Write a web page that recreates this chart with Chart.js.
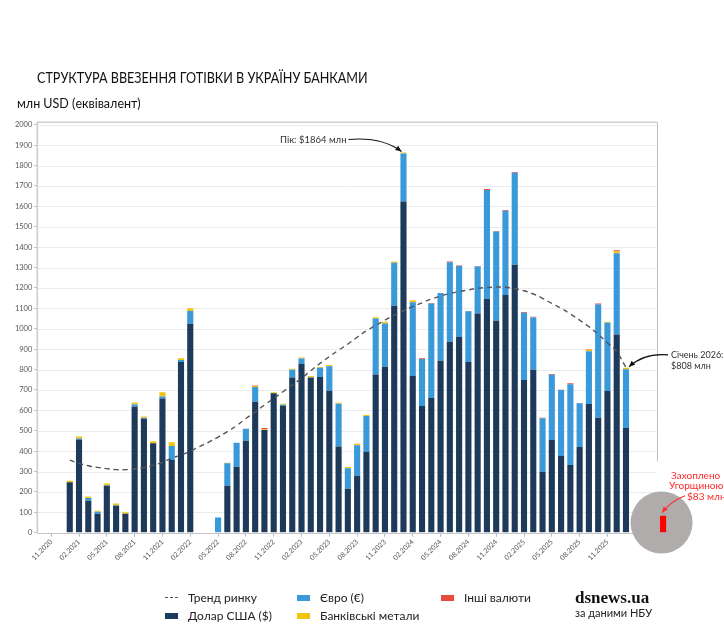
<!DOCTYPE html>
<html><head><meta charset="utf-8">
<script src="https://cdn.jsdelivr.net/npm/chart.js@4.4.1/dist/chart.umd.min.js"></script>
<style>
html,body{margin:0;padding:0;background:#fff;}
#wrap{position:relative;width:724px;height:630px;overflow:hidden;font-family:Lato,"Noto Sans",sans-serif;color:#111;}
canvas{position:absolute;left:0;top:0;}
.t{position:absolute;white-space:nowrap;line-height:1;}
.lg{position:absolute;white-space:nowrap;font-size:12px;line-height:1;color:#222;}
.sw{position:absolute;}
</style></head><body>
<div id="wrap">
<canvas id="c" width="724" height="630"></canvas>
<div class="t" style="left:37px;top:70px;font-size:15px;transform:scaleX(0.84);transform-origin:0 0;">СТРУКТУРА ВВЕЗЕННЯ ГОТІВКИ В УКРАЇНУ БАНКАМИ</div>
<div class="t" style="left:17px;top:98px;font-size:12.5px;">млн USD (еквівалент)</div>
<div id="legend"></div>
<div class="t" style="left:575px;top:588px;font:bold 17px 'Liberation Serif','DejaVu Serif',serif;color:#111;">dsnews.ua</div>
<div class="t" style="left:575px;top:607px;font-size:11px;color:#222;">за даними НБУ</div>
</div>
<script>
// ---- data ----
const months = ['11.2020','12.2020',
 '01.2021','02.2021','03.2021','04.2021','05.2021','06.2021','07.2021','08.2021','09.2021','10.2021','11.2021','12.2021',
 '01.2022','02.2022','03.2022','04.2022','05.2022','06.2022','07.2022','08.2022','09.2022','10.2022','11.2022','12.2022',
 '01.2023','02.2023','03.2023','04.2023','05.2023','06.2023','07.2023','08.2023','09.2023','10.2023','11.2023','12.2023',
 '01.2024','02.2024','03.2024','04.2024','05.2024','06.2024','07.2024','08.2024','09.2024','10.2024','11.2024','12.2024',
 '01.2025','02.2025','03.2025','04.2025','05.2025','06.2025','07.2025','08.2025','09.2025','10.2025','11.2025','12.2025',
 '01.2026'];
const tickLabels = ['11.2020','02.2021','05.2021','08.2021','11.2021','02.2022','05.2022','08.2022','11.2022',
 '02.2023','05.2023','08.2023','11.2023','02.2024','05.2024','08.2024','11.2024','02.2025','05.2025','08.2025','11.2025'];
const usd = [0,0,247,457,157,93,230,132,93,618,559,438,658,356,837,1024,0,0,0,230,323,451,642,503,683,621,761,827,760,763,696,
 422,216,279,397,776,814,1113,1623,768,621,660,843,936,959,837,1074,1147,1039,1165,1314,748,799,299,454,376,332,420,631,564,694,972,513];
const eur = [0,0,0,5,13,10,3,3,0,10,5,0,10,69,10,63,0,0,74,110,118,59,72,0,0,6,38,27,2,45,120,
 210,100,150,175,274,212,210,236,362,231,463,332,390,348,248,231,533,438,413,451,330,256,262,320,323,396,214,258,555,335,398,288];
const metals = [0,0,8,10,8,5,8,8,7,10,6,10,20,18,8,13,0,0,0,3,0,0,5,4,5,5,5,5,6,4,6,
 5,6,7,5,6,8,7,5,9,0,0,0,0,0,0,0,0,0,0,0,0,0,0,0,0,0,0,8,0,5,10,7];
const others = [0,0,0,0,0,0,0,0,0,0,0,0,0,0,0,0,0,0,0,0,0,0,3,6,0,0,0,0,0,0,0,
 0,0,0,0,0,0,0,0,0,3,3,0,4,3,2,2,5,2,4,3,4,4,3,4,2,4,2,2,5,0,5,0];
const trend = [null,null,356,340,328,320,314,309,309,312,319,330,345,365,381,400,422,444,469,495,525,560,
 591,626,658,691,724,757,794,830,863,895,925,958,990,1016,1042,1067,1088,1108,1127,1145,
 1160,1172,1182,1190,1198,1202,1204,1203,1196,1186,1170,1149,1124,1100,1072,1042,1010,972,931,887,810];
const seizedValue = 83;
const seriesNames = ['Тренд ринку','Долар США ($)','Євро (€)','Банківські метали','Інші валюти'];
const colors = {trend:'#555555', usd:'#1e3a5a', eur:'#3a99d8', metals:'#f1c40f', others:'#e74c3c', seized:'#ff0000'};

// ---- build ----
const PAD_BEFORE = 1;
const labels = [''].concat(months, ['','',''], ['seized']);
const seizedIdx = labels.length - 1;
const pad = a => [null].concat(a.map(v => v === 0 ? null : v), [null,null,null,null]);
const padLine = a => [null].concat(a, [null,null,null,null]);
const seizedData = labels.map((l,i) => i === seizedIdx ? seizedValue : null);
const totals = months.map((m,i) => usd[i]+eur[i]+metals[i]+others[i]);

const barBase = {type:'bar', order:1, barPercentage:0.66, categoryPercentage:1, borderWidth:0};
const datasets = [
 {type:'line', label:seriesNames[0], data:padLine(trend), borderColor:colors.trend, borderWidth:1.4, borderDash:[5,4],
  pointRadius:0, tension:0.4, fill:false, order:0, stack:'trend'},
 Object.assign({label:seriesNames[1], data:pad(usd), backgroundColor:colors.usd}, barBase),
 Object.assign({label:seriesNames[2], data:pad(eur), backgroundColor:colors.eur}, barBase),
 Object.assign({label:seriesNames[3], data:pad(metals), backgroundColor:colors.metals}, barBase),
 Object.assign({label:seriesNames[4], data:pad(others), backgroundColor:colors.others}, barBase),
 Object.assign({label:'Захоплено', data:seizedData, backgroundColor:colors.seized}, barBase)
];

function arrow(ctx, x0,y0,cx,cy,x1,y1,color){
  ctx.strokeStyle=color; ctx.fillStyle=color; ctx.lineWidth=1.1;
  ctx.beginPath(); ctx.moveTo(x0,y0); ctx.quadraticCurveTo(cx,cy,x1,y1); ctx.stroke();
  const ang=Math.atan2(y1-cy,x1-cx), L=6, W=2.6;
  ctx.beginPath();
  ctx.moveTo(x1,y1);
  ctx.lineTo(x1-L*Math.cos(ang)+W*Math.sin(ang), y1-L*Math.sin(ang)-W*Math.cos(ang));
  ctx.lineTo(x1-L*Math.cos(ang)-W*Math.sin(ang), y1-L*Math.sin(ang)+W*Math.cos(ang));
  ctx.closePath(); ctx.fill();
}

const deco = {
 id:'deco',
 beforeDatasetsDraw(chart){
   const {ctx, chartArea:a, scales:{x,y}} = chart;
   const w = x.getPixelForValue(1)-x.getPixelForValue(0);
   const bx = x.getPixelForValue(66) + 0.35*w;
   ctx.save();
   ctx.lineWidth=1;
   y.ticks.forEach(t=>{
     if(t.value===0) return;
     const py=Math.round(y.getPixelForValue(t.value))+0.5;
     ctx.strokeStyle='#ebebeb';
     ctx.beginPath(); ctx.moveTo(a.left,py); ctx.lineTo(bx,py); ctx.stroke();
   });
   const p0=Math.round(y.getPixelForValue(0))+0.5;
   ctx.strokeStyle='#c4c4c4';
   ctx.beginPath(); ctx.moveTo(a.left,p0); ctx.lineTo(bx,p0); ctx.stroke();
   // frame
   ctx.strokeStyle='#cdcdcd'; ctx.lineWidth=1.6;
   const top=a.top-2.5;
   ctx.beginPath(); ctx.moveTo(a.left,a.bottom); ctx.lineTo(a.left,top); ctx.lineTo(bx,top); ctx.stroke();
   ctx.lineWidth=1; ctx.strokeStyle='#bdbdbd';
   ctx.beginPath(); ctx.moveTo(Math.round(bx)+0.5,top); ctx.lineTo(Math.round(bx)+0.5,a.bottom-71); ctx.stroke();
   // circle behind seized bar
   const sx=x.getPixelForValue(seizedIdx);
   ctx.fillStyle='#b1acac';
   ctx.beginPath(); ctx.arc(sx-1.5, y.getPixelForValue(50), 31, 0, Math.PI*2); ctx.fill();
   ctx.restore();
 },
 afterDatasetsDraw(chart){
   const {ctx, scales:{x,y}} = chart;
   ctx.save();
   ctx.font='9.5px Lato, "Noto Sans", sans-serif';
   ctx.textBaseline='middle';
   // peak
   let pi=0; totals.forEach((t,i)=>{ if(t>totals[pi]) pi=i; });
   const px=x.getPixelForValue(pi+PAD_BEFORE), py=y.getPixelForValue(totals[pi]);
   ctx.fillStyle='#333'; ctx.textAlign='right';
   ctx.fillText('Пік: $'+totals[pi]+' млн', px-57, py-13);
   arrow(ctx, px-55, py-13, px-22, py-16, px-2, py-1, '#111');
   // last month
   const li=months.length-1;
   const lx=x.getPixelForValue(li+PAD_BEFORE), ly=y.getPixelForValue(totals[li]);
   ctx.font='9px Lato, "Noto Sans", sans-serif';
   ctx.fillStyle='#333'; ctx.textAlign='left';
   ctx.fillText('Січень 2026:', lx+45, ly-13);
   ctx.fillText('$'+totals[li]+' млн', lx+45, ly-2);
   arrow(ctx, lx+42, ly-13, lx+18, ly-15, lx+3, ly-1, '#111');
   // seized
   const sx=x.getPixelForValue(seizedIdx), sy=y.getPixelForValue(seizedValue);
   ctx.fillStyle='#ff2a2a'; ctx.font='10px Lato, "Noto Sans", sans-serif';
   ctx.fillText('Захоплено', sx+8, sy-40);
   ctx.fillText('Угорщиною:', sx+6, sy-30);
   ctx.fillText('$'+seizedValue+' млн', sx+24, sy-19);
   arrow(ctx, sx+22, sy-20, sx+8, sy-15, sx-1, sy-3, '#ff2a2a');
   ctx.restore();
 }
};

Chart.defaults.font.family = 'Lato, "Noto Sans", sans-serif';
const chart = new Chart(document.getElementById('c'), {
 data:{labels, datasets},
 plugins:[deco],
 options:{
  responsive:false, animation:false, devicePixelRatio:1,
  layout:{padding:{top:124.7, left:0, right:56.3, bottom:0}},
  plugins:{legend:{display:false}, tooltip:{enabled:false}},
  scales:{
   x:{type:'category', stacked:true, offset:true,
      afterFit(s){ s.height = 97.3; },
      border:{display:false},
      grid:{drawOnChartArea:false, drawTicks:true, tickLength:4, offset:false,
            color:c => tickLabels.includes(labels[c.index]) ? '#bbbbbb' : 'rgba(0,0,0,0)'},
      ticks:{autoSkip:false, maxRotation:45, minRotation:45, padding:1, color:'#555', font:{size:7},
             callback:(v,i)=> tickLabels.includes(labels[i]) ? labels[i] : ''}},
   y:{stacked:true, min:0, max:2000,
      afterFit(s){ s.width = 37.3; },
      border:{display:false},
      grid:{drawOnChartArea:false, drawTicks:true, tickLength:3, color:'#bbbbbb'},
      ticks:{stepSize:100, padding:2, color:'#555', font:{size:7.5}, callback:v => String(v)}}
  }
 }
});

// ---- HTML legend (from dataset labels/colours) ----
const legendPos = [[165,598],[165,616],[297,598],[297,616],[441,598]];
const lg = document.getElementById('legend');
legendPos.forEach((p,i)=>{
  const ds = datasets[i];
  const sw = document.createElement('div'); sw.className='sw';
  if(ds.type==='line'){
    sw.style.cssText=`left:${p[0]}px;top:${p[1]-1}px;width:13px;height:0;border-top:1.5px dashed ${ds.borderColor};`;
  } else {
    sw.style.cssText=`left:${p[0]}px;top:${p[1]-3}px;width:13px;height:6px;background:${ds.backgroundColor};`;
  }
  lg.appendChild(sw);
  const t=document.createElement('div'); t.className='lg'; t.textContent=ds.label;
  t.style.left=(p[0]+23)+'px'; t.style.top=(p[1]-6)+'px';
  lg.appendChild(t);
});
</script>
</body></html>
